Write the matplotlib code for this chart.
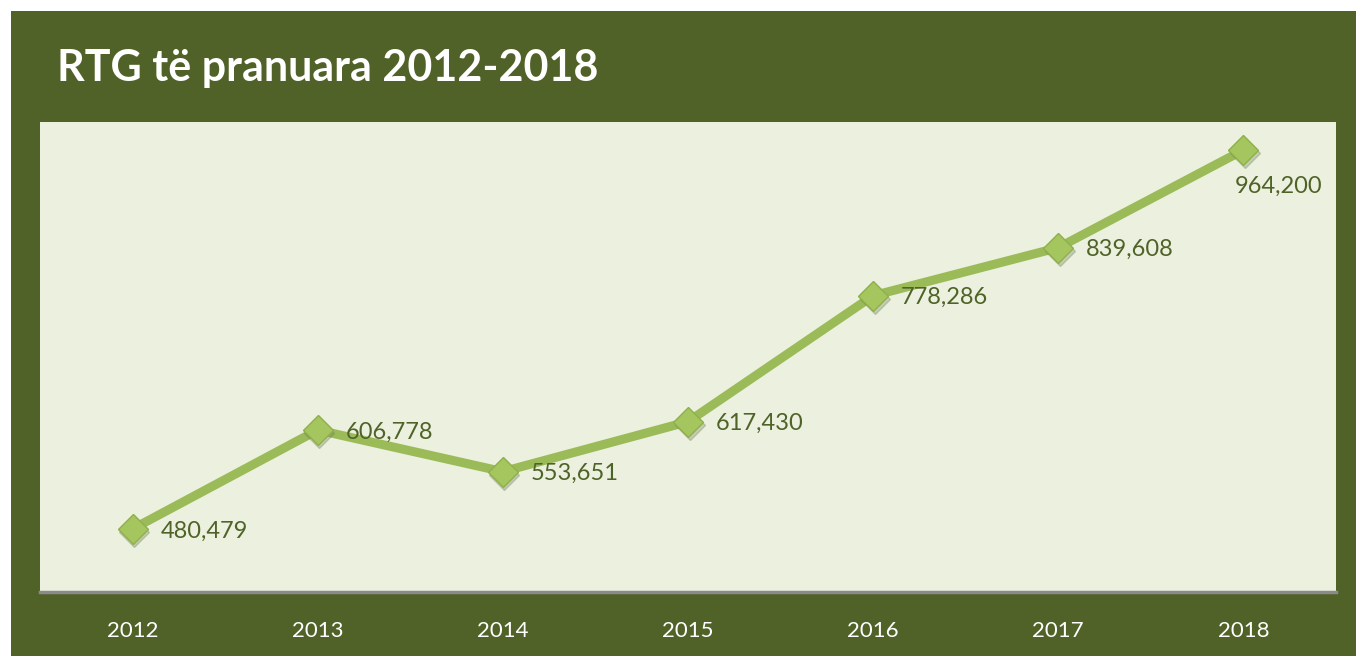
import matplotlib.pyplot as plt
import matplotlib.transforms as mtransforms
from matplotlib.patches import Rectangle

years = ["2012", "2013", "2014", "2015", "2016", "2017", "2018"]
values = [480479, 606778, 553651, 617430, 778286, 839608, 964200]
title = "RTG të pranuara 2012-2018"

FRAME = "#506228"
PLOT_BG = "#EBF1DE"
LINE = "#9BBB59"
TEXT = "#4F6228"

plt.rcParams['font.family'] = ['Lato', 'DejaVu Sans']

fig = plt.figure(figsize=(13.56, 6.56), dpi=100, facecolor="white")
# dark green frame, white strip on top and left
fig.patches.append(Rectangle((11 / 1356, 0), 1, 1 - 11 / 656, transform=fig.transFigure,
                             facecolor=FRAME, edgecolor="none", zorder=-5))
fig.text(57 / 1356, 1 - 68 / 656, title, color="white", fontsize=31, fontweight="bold",
         va="center", ha="left")

ax = fig.add_axes([40 / 1356, 64 / 656, 1296 / 1356, 470 / 656])
ax.set_zorder(1)
ax.set_facecolor(PLOT_BG)
x = list(range(len(years)))

# soft shadow under markers
shadow = ax.transData + mtransforms.ScaledTranslation(1.5 / 100, -3 / 100, fig.dpi_scale_trans)
ax.plot(x, values, linestyle="none", marker="D", markersize=15, color="#6b7a50",
        alpha=0.3, zorder=3, transform=shadow)
ax.plot(x, values, color=LINE, linewidth=6.5, solid_capstyle="round", zorder=2)
ax.plot(x, values, linestyle="none", marker="D", markersize=15, markerfacecolor="#A5C55F",
        markeredgecolor="#8DB04A", markeredgewidth=1, zorder=4)

for i, v in enumerate(values):
    if i == len(values) - 1:
        ax.annotate(f"{v:,}", (i, v), xytext=(-9, -36), textcoords="offset pixels",
                    ha="left", va="center", color=TEXT, fontsize=17)
    else:
        ax.annotate(f"{v:,}", (i, v), xytext=(28, -2), textcoords="offset pixels",
                    ha="left", va="center", color=TEXT, fontsize=17)

ax.set_xlim(-0.5, len(years) - 0.5)
ax.set_ylim(400000, 1000000)
ax.set_xticks(x)
ax.set_xticklabels(years, color="white", fontsize=16)
ax.set_yticks([])
ax.tick_params(axis="x", length=0, pad=21)
for side in ["top", "left", "right"]:
    ax.spines[side].set_visible(False)
ax.spines["bottom"].set_color("#8a8a8a")
ax.spines["bottom"].set_linewidth(2.5)

fig.savefig("out.png", dpi=100, facecolor=fig.get_facecolor())
